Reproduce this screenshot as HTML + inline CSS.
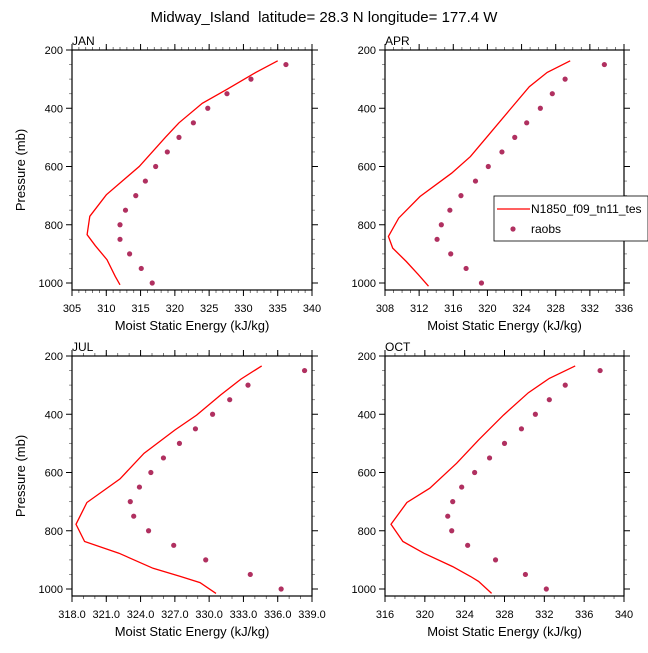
<!DOCTYPE html>
<html><head><meta charset="utf-8">
<style>
html,body{margin:0;padding:0;background:#fff;}
svg text{font-family:"Liberation Sans",sans-serif;fill:#000;}
</style></head>
<body>
<svg id="chart" width="648" height="648" viewBox="0 0 648 648" xmlns="http://www.w3.org/2000/svg">
<text x="324" y="22" font-size="15" text-anchor="middle">Midway_Island&#160; latitude= 28.3 N longitude= 177.4 W</text>
</svg>
<script>
// Pressure levels for observations (mb)
const obsLevels = [250,300,350,400,450,500,550,600,650,700,750,800,850,900,950,1000];
const yTicks = [200,400,600,800,1000];

// JAN
const janModelP = [237,277,335,383,450,500,600,697,771,834,872,920,977,1006];
const janModelE = [335.0,331.8,327.6,324.0,320.6,318.6,314.8,310.0,307.6,307.2,308.4,310.1,311.3,312.0];
const janObsE = [336.2,331.1,327.6,324.8,322.7,320.6,318.9,317.2,315.7,314.3,312.8,312.0,312.0,313.4,315.1,316.7];
const janXTicks = [305,310,315,320,325,330,335,340];

// APR
const aprModelP = [237,277,326,406,486,566,623,703,777,840,880,926,971,1011];
const aprModelE = [329.7,327.0,324.9,322.6,320.3,318.0,315.8,312.1,309.6,308.4,308.9,310.5,311.9,313.1];
const aprObsE = [333.7,329.1,327.6,326.2,324.6,323.2,321.7,320.1,318.6,316.9,315.6,314.6,314.1,315.7,317.5,319.3];
const aprXTicks = [308,312,316,320,324,328,332,336];

// JUL
const julModelP = [234,279,334,403,454,534,622,703,778,837,877,929,957,978,1015];
const julModelE = [334.6,332.8,331.0,328.9,327.0,324.3,322.2,319.3,318.35,319.1,322.1,325.1,327.5,329.2,330.6];
const julObsE = [338.35,333.4,331.8,330.3,328.8,327.4,326.0,324.9,323.9,323.1,323.4,324.7,326.9,329.7,333.6,336.3];
const julXTicks = [318,321,324,327,330,333,336,339];

// OCT
const octModelP = [234,277,326,403,488,568,654,703,778,837,877,923,957,974,1015];
const octModelE = [335.1,332.5,330.4,327.9,325.4,323.2,320.5,318.2,316.6,317.8,319.9,322.8,324.6,325.4,326.7];
const octObsE = [337.6,334.1,332.5,331.1,329.7,328.0,326.5,325.0,323.7,322.8,322.3,322.7,324.3,327.1,330.1,332.2];
const octXTicks = [316,320,324,328,332,336,340];

const NS = "http://www.w3.org/2000/svg";
const svg = document.getElementById("chart");
function mk(tag, attrs, parent){
  const e = document.createElementNS(NS, tag);
  for (const k in attrs) e.setAttribute(k, attrs[k]);
  (parent||svg).appendChild(e);
  return e;
}

function panel(cfg){
  const {id,label,x0,y0,w,h,xmin,xmax,xTicks,xFmt,minorStep,mP,mE,oE,showYTitle} = cfg;
  const g = mk("g",{});
  
  
  const pmin=200, pmax=1024;
  const X = v => x0 + (v-xmin)/(xmax-xmin)*w;
  const Y = p => y0 + (p-pmin)/(pmax-pmin)*h;

  for (let v=xmin; v<=xmax+1e-9; v+=minorStep){
    const xx=X(v);
    const t1=mk("line",{x1:xx,x2:xx,y1:y0+h,y2:y0+h+3,stroke:"#555","stroke-width":0.8},g);
    
    
    const t2=mk("line",{x1:xx,x2:xx,y1:y0,y2:y0-3,stroke:"#555","stroke-width":0.8},g);
    
    
  }
  for (let p=250; p<=1000; p+=50){
    if (p%200===0) continue;
    const yy=Y(p);
    const t1=mk("line",{x1:x0,x2:x0-3,y1:yy,y2:yy,stroke:"#777","stroke-width":0.8},g);
    
    
    const t2=mk("line",{x1:x0+w,x2:x0+w+3,y1:yy,y2:yy,stroke:"#777","stroke-width":0.8},g);
    
    
  }
  xTicks.forEach(v=>{
    const xx=X(v);
    const t1=mk("line",{x1:xx,x2:xx,y1:y0+h,y2:y0+h+6,stroke:"#000","stroke-width":1},g);
    
    
    const t2=mk("line",{x1:xx,x2:xx,y1:y0,y2:y0-6,stroke:"#000","stroke-width":1},g);
    
    
    const tx=mk("text",{x:xx,y:y0+h+22,"font-size":11,"text-anchor":"middle"},g);
    tx.textContent = xFmt ? v.toFixed(1) : String(v);
    
    
  });
  yTicks.forEach(p=>{
    const yy=Y(p);
    const t1=mk("line",{x1:x0,x2:x0-6,y1:yy,y2:yy,stroke:"#000","stroke-width":1},g);
    
    
    const t2=mk("line",{x1:x0+w,x2:x0+w+6,y1:yy,y2:yy,stroke:"#000","stroke-width":1},g);
    
    
    const tx=mk("text",{x:x0-9,y:yy+4,"font-size":11,"text-anchor":"end"},g);
    tx.textContent = String(p);
    
    
  });
  const fr=mk("rect",{x:x0,y:y0,width:w,height:h,fill:"none",stroke:"#000","stroke-width":1.2},g);
  
  
  const pts = mP.map((p,i)=>X(mE[i]).toFixed(1)+","+Y(p).toFixed(1)).join(" ");
  const pl=mk("polyline",{points:pts,fill:"none",stroke:"#ff0000","stroke-width":1.3},g);
  
  
  obsLevels.forEach((p,i)=>{
    const c=mk("circle",{cx:X(oE[i]),cy:Y(p),r:2.6,fill:"#b03060"},g);
    
    
  });
  const lb=mk("text",{x:x0,y:y0-5,"font-size":12},g);
  lb.textContent=label;
  
  
  const xt=mk("text",{x:x0+w/2,y:y0+h+40,"font-size":13,"text-anchor":"middle"},g);
  xt.textContent="Moist Static Energy (kJ/kg)";
  
  
  if (showYTitle){
    const yt=mk("text",{x:0,y:0,"font-size":13,"text-anchor":"middle",transform:`translate(${x0-47},${y0+h/2}) rotate(-90)`},g);
    yt.textContent="Pressure (mb)";
    
    
  }
}

panel({id:"jan",label:"JAN",x0:72,y0:50,w:240,h:240,xmin:305,xmax:340,xTicks:janXTicks,xFmt:false,minorStep:1,mP:janModelP,mE:janModelE,oE:janObsE,showYTitle:true});
panel({id:"apr",label:"APR",x0:385,y0:50,w:239,h:240,xmin:308,xmax:336,xTicks:aprXTicks,xFmt:false,minorStep:1,mP:aprModelP,mE:aprModelE,oE:aprObsE,showYTitle:false});
panel({id:"jul",label:"JUL",x0:72,y0:356,w:240,h:240,xmin:318,xmax:339,xTicks:julXTicks,xFmt:true,minorStep:1,mP:julModelP,mE:julModelE,oE:julObsE,showYTitle:true});
panel({id:"oct",label:"OCT",x0:385,y0:356,w:239,h:240,xmin:316,xmax:340,xTicks:octXTicks,xFmt:false,minorStep:1,mP:octModelP,mE:octModelE,oE:octObsE,showYTitle:false});

const lg = mk("g",{});


const lbx=mk("rect",{x:494,y:196,width:154,height:45,fill:"#fff",stroke:"#000","stroke-width":0.8},lg);


const ll=mk("line",{x1:497,x2:530,y1:209,y2:209,stroke:"#ff0000","stroke-width":1.3},lg);


const lt1=mk("text",{x:531,y:213,"font-size":12},lg);
lt1.textContent="N1850_f09_tn11_tes";


const ld=mk("circle",{cx:513,cy:229,r:2.6,fill:"#b03060"},lg);


const lt2=mk("text",{x:531,y:233,"font-size":12},lg);
lt2.textContent="raobs";


</script>
</body></html>
